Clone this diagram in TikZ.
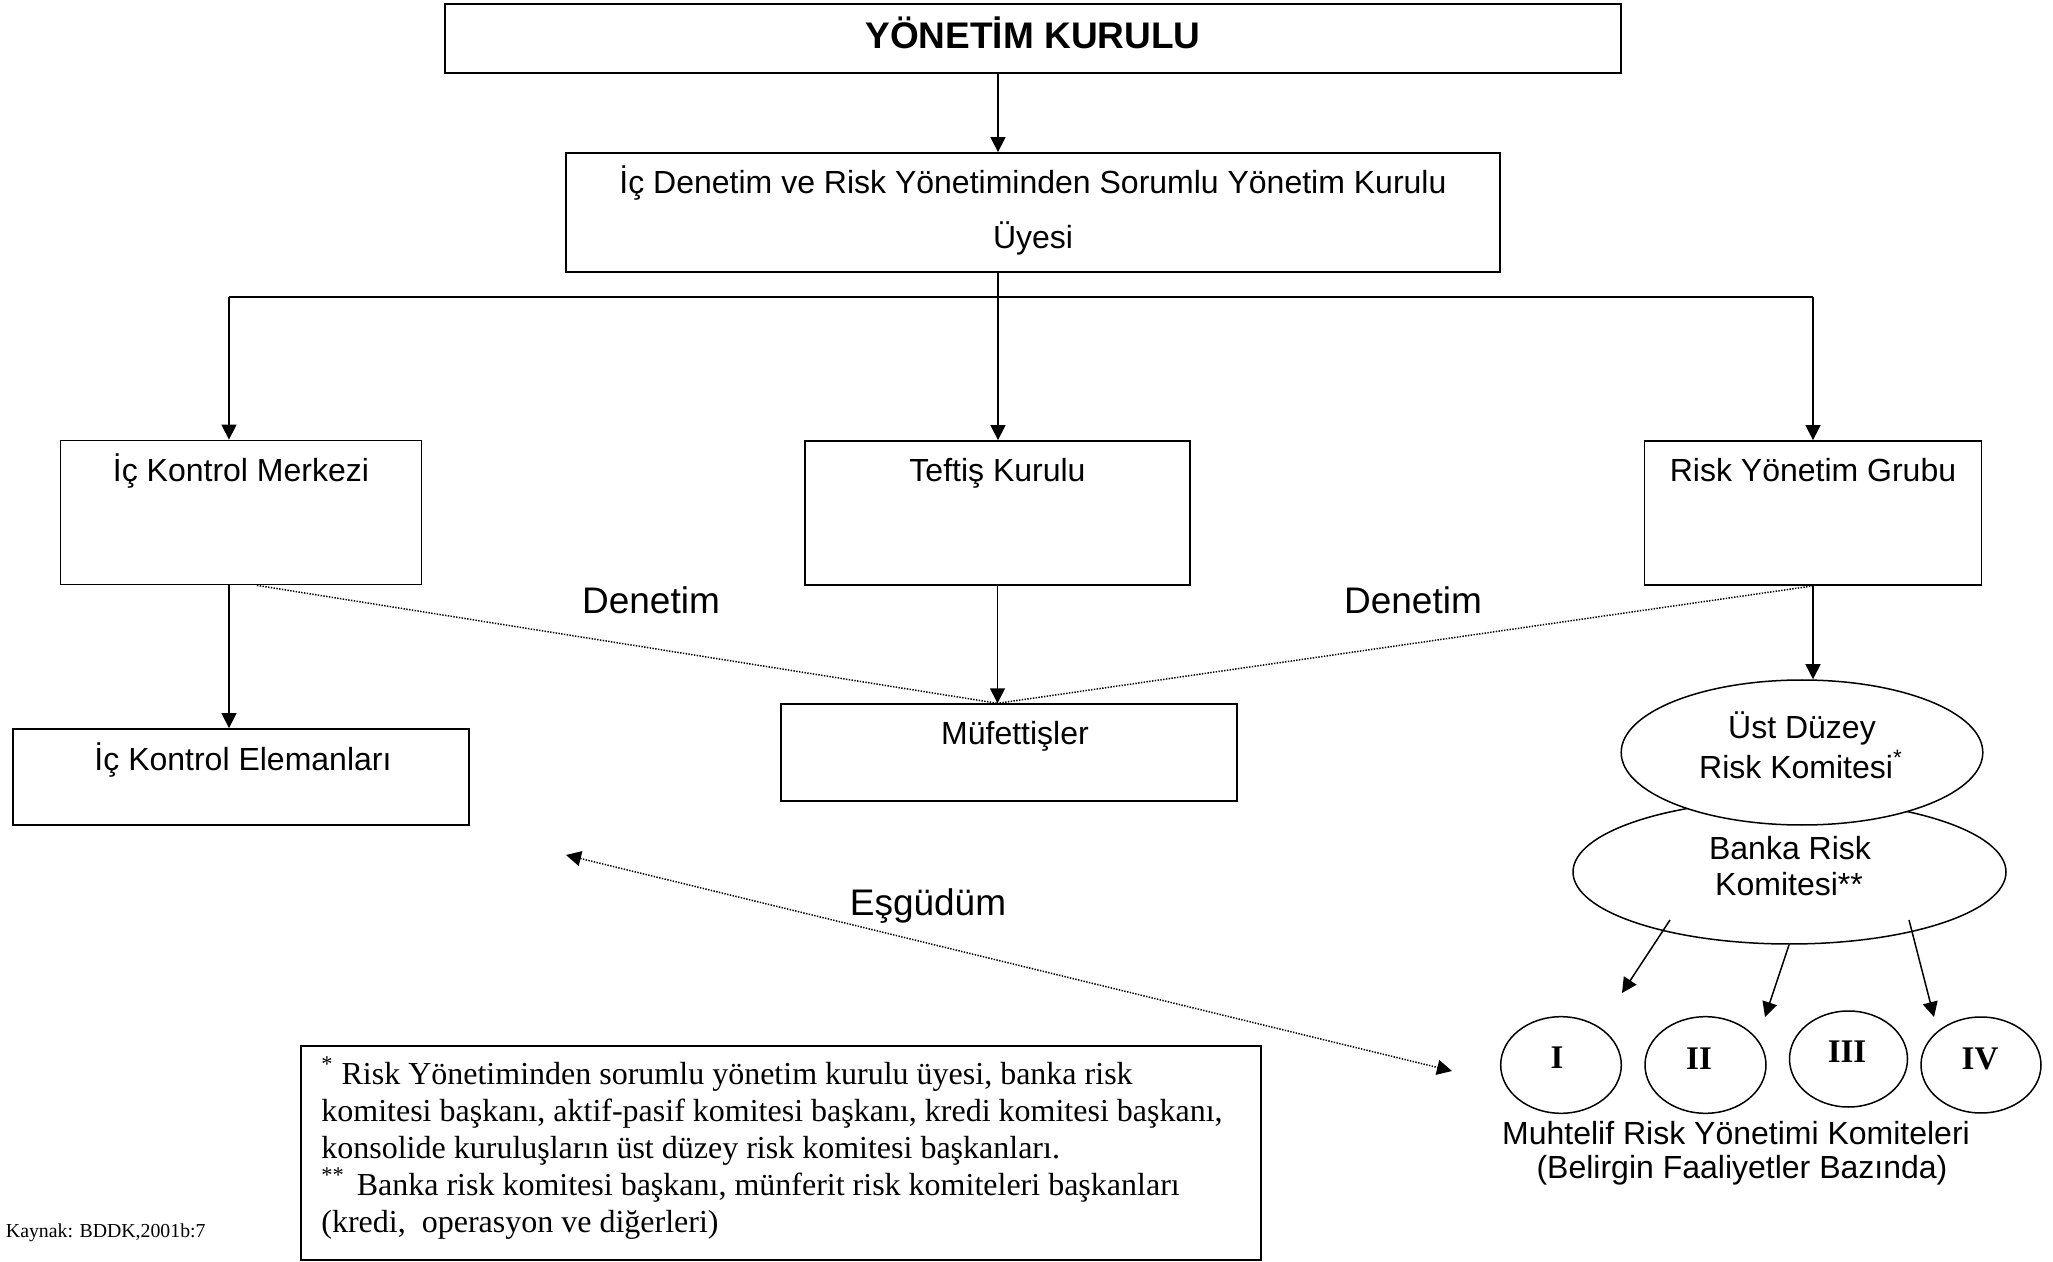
\documentclass[tikz,border=0pt]{standalone}
\usepackage{fontspec}
\setmainfont{Liberation Sans}
\newfontfamily\tnr{Liberation Serif}
\usetikzlibrary{arrows.meta,shapes.geometric,calc}
\tikzset{
  box/.style={draw, line width=0.9pt, rectangle, inner sep=0pt},
  conn/.style={line width=0.75pt},
  arr/.style={conn, -{Triangle[length=7.5pt,width=7.5pt]}},
  dots/.style={line width=0.75pt, dash pattern=on 0.7pt off 0.7pt},
  oval/.style={draw, ellipse, line width=0.75pt, inner sep=0pt},
  lbl/.style={font=\fontsize{16}{19}\selectfont, anchor=base, inner sep=0pt},
  big/.style={font=\fontsize{18.5}{22}\selectfont, anchor=base, inner sep=0pt},
  note/.style={font=\tnr\fontsize{16}{18.5}\selectfont, anchor=base west, inner sep=0pt},
  roman/.style={font=\tnr\bfseries\fontsize{16.5}{19}\selectfont, anchor=base, inner sep=0pt},
}
\begin{document}
\begin{tikzpicture}[x=0.5pt,y=-0.5pt]
\useasboundingbox (0,0) rectangle (2053,1262);

% boxes
\node[box, minimum width=588pt, minimum height=34.5pt] (top) at (1033,38.5) {};
\node[box, minimum width=467pt, minimum height=59.5pt] (second) at (1033,212.5) {};
\node[box, minimum width=180.5pt, minimum height=72pt] (ikm) at (241,512.5) {};
\node[box, minimum width=192.5pt, minimum height=72pt] (teftis) at (997.5,513) {};
\node[box, minimum width=168.5pt, minimum height=72pt] (ryg) at (1813,513) {};
\node[box, minimum width=228.3pt, minimum height=48pt] (ike) at (241,777) {};
\node[box, minimum width=228pt, minimum height=48.3pt] (muf) at (1009,752.5) {};
\node[box, minimum width=480pt, minimum height=107pt] (fn) at (781,1153) {};

% box texts
\node[big, font=\bfseries\fontsize{18.5}{22}\selectfont] (ttop) at (1033,49) {YÖNETİM KURULU};
\node[lbl] (tsec1) at (1033,193.5) {İç Denetim ve Risk Yönetiminden Sorumlu Yönetim Kurulu};
\node[lbl] (tsec2) at (1033,248.5) {Üyesi};
\node[lbl] (tikm) at (241,482) {İç Kontrol Merkezi};
\node[lbl] (tteftis) at (997.5,482) {Teftiş Kurulu};
\node[lbl] (tryg) at (1813,482) {Risk Yönetim Grubu};
\node[lbl] (tike) at (243,770) {İç Kontrol Elemanları};
\node[lbl] (tmuf) at (1015,745) {Müfettişler};

% ellipses
\node[oval, minimum width=216.5pt, minimum height=72pt] (banka) at (1789.5,872) {};
\node[oval, fill=white, minimum width=180.8pt, minimum height=72.5pt] (ust) at (1802,752.5) {};
\node[lbl] (tust1) at (1802,738.5) {Üst Düzey};
\node[lbl] (tust2) at (1801,778.5) {Risk Komitesi\textsuperscript{*}};
\node[lbl] (tbank1) at (1790,859) {Banka Risk};
\node[lbl] (tbank2) at (1789,895) {Komitesi**};

\node[oval, minimum width=60.3pt, minimum height=48.3pt] (k1) at (1561,1065) {};
\node[oval, minimum width=60.5pt, minimum height=48.3pt] (k2) at (1705.5,1065) {};
\node[oval, minimum width=59pt, minimum height=48pt] (k3) at (1848.5,1059) {};
\node[oval, minimum width=60pt, minimum height=48pt] (k4) at (1981,1065) {};
\node[roman] (r1) at (1557,1068) {I};
\node[roman] (r2) at (1699,1069) {II};
\node[roman] (r3) at (1847,1062) {III};
\node[roman] (r4) at (1980,1069) {IV};
\node[lbl] (tmuh1) at (1736,1144) {Muhtelif Risk Yönetimi Komiteleri};
\node[lbl] (tmuh2) at (1742,1178) {(Belirgin Faaliyetler Bazında)};

% free labels
\node[big] (den1) at (651,614) {Denetim};
\node[big] (den2) at (1413,614) {Denetim};
\node[big] (esg) at (928,915) {Eşgüdüm};

% footnote
\node[note] (n1) at (321,1084) {\textsuperscript{*} Risk Yönetiminden sorumlu yönetim kurulu üyesi, banka risk};
\node[note] (n2) at (321,1121) {komitesi başkanı, aktif-pasif komitesi başkanı, kredi komitesi başkanı,};
\node[note] (n3) at (321,1158) {konsolide kuruluşların üst düzey risk komitesi başkanları.};
\node[note] (n4) at (321,1195) {\textsuperscript{**}\hspace{6pt}Banka risk komitesi başkanı, münferit risk komiteleri başkanları};
\node[note] (n5) at (321,1232) {(kredi,\ \ operasyon ve diğerleri)};
\node[font=\tnr\fontsize{9.9}{12}\selectfont, anchor=base east, inner sep=0pt] (kaynak) at (206,1237) {Kaynak: BDDK,2001b:7};

% coordinates
\coordinate (barL) at (229,297);
\coordinate (barM) at (998,297);
\coordinate (barR) at (1813,297);
\coordinate (mtop) at (teftis.south |- muf.north);
\coordinate (dl) at ([xshift=8pt]ikm.south);
\coordinate (a1s) at (1670,920);
\coordinate (a1e) at (1622,993);
\coordinate (a2s) at (1789,945);
\coordinate (a2e) at (1765,1017);
\coordinate (a3s) at (1909,920);
\coordinate (a3e) at (1934,1017);
\coordinate (e1) at (566,855);
\coordinate (e2) at (1452,1071);

% connectors
\draw[arr] (barM |- top.south) -- (barM |- second.north);
\draw[conn] (barM |- second.south) -- (barM);
\draw[conn] (barL) -- (barR);
\draw[arr] (barL) -- (barL |- ikm.north);
\draw[arr] (barM) -- (barM |- teftis.north);
\draw[arr] (barR) -- (barR |- ryg.north);
\draw[arr] (barL |- ikm.south) -- (barL |- ike.north);
\draw[arr] (teftis.south) -- (mtop);
\draw[arr] (ryg.south) -- (ryg.south |- ust.north);
\draw[dots] (dl) -- (mtop);
\draw[dots] (ryg.south) -- (mtop);
\draw[arr] (a1s) -- (a1e);
\draw[arr] (a2s) -- (a2e);
\draw[arr] (a3s) -- (a3e);
\draw[dots, {Triangle[length=7.5pt,width=7.5pt]}-{Triangle[length=7.5pt,width=7.5pt]}] (e1) -- (e2);
\end{tikzpicture}
\end{document}
